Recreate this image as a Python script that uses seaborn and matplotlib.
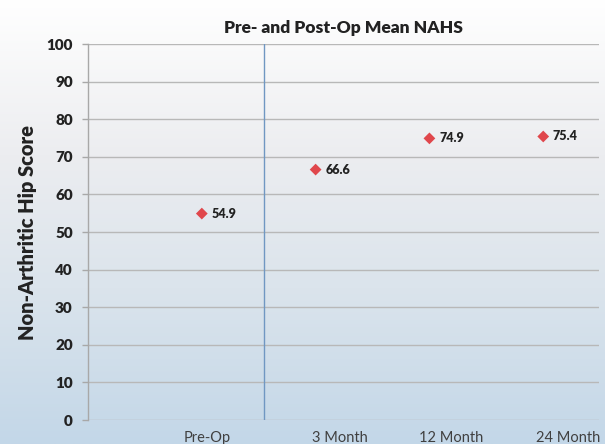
import numpy as np
import pandas as pd
import matplotlib
matplotlib.use("Agg")
import matplotlib.pyplot as plt
import seaborn as sns
from matplotlib.colors import LinearSegmentedColormap

# ---- data ----
categories = ["Pre-Op", "3 Month", "12 Month", "24 Month"]
scores = [54.9, 66.6, 74.9, 75.4]
y_ticks = list(range(0, 101, 10))
title = "Pre- and Post-Op Mean NAHS"
y_label = "Non-Arthritic Hip Score"

# ---- style ----
sns.set_theme(style="white")
plt.rcParams['font.family'] = ['Lato', 'DejaVu Sans']

label_shift = [0.05, 0.21, 0.19, 0.22]   # category label offsets (Excel text boxes)

fig = plt.figure(figsize=(6.05, 4.44), dpi=100)

# background gradient
bg = fig.add_axes([0, 0, 1, 1], zorder=-10)
cmap = LinearSegmentedColormap.from_list(
    "bg", [(0.0, "#c3d7e8"), (0.35, "#dbe4ec"), (0.65, "#ecedf0"), (1.0, "#ffffff")])
grad = np.linspace(0, 1, 256).reshape(-1, 1)
bg.imshow(grad, aspect="auto", extent=[0, 1, 0, 1], cmap=cmap, origin="lower")
bg.axis("off")

ax = fig.add_axes([88 / 605, 1 - 420 / 444, (599 - 88) / 605, (420 - 44) / 444])
ax.set_facecolor("none")

df = pd.DataFrame({"pos": np.arange(len(categories)), "score": scores, "cat": categories})
sns.scatterplot(data=df, x="pos", y="score", marker="D", color="#e0474c", s=36,
                edgecolor="none", ax=ax, zorder=3)

for x, v in zip(df["pos"], df["score"]):
    ax.annotate(f"{v}", (x, v), xytext=(7, 0), textcoords="offset points",
                va="center", ha="left", fontsize=9, fontweight="heavy", color="#222222")

ax.set_xlim(-1.0, 3.49)
ax.set_ylim(0, 100)
ax.set_yticks(y_ticks)
ax.yaxis.grid(True, color="#b8b8b8", lw=1)
ax.xaxis.grid(False)
ax.axvline(0.545, color="#7097c2", lw=1, zorder=2)

for s in ["top", "right", "bottom"]:
    ax.spines[s].set_visible(False)
ax.spines["left"].set_color("#a8a8a8")
ax.spines["left"].set_linewidth(1)

ax.tick_params(axis="y", which="both", left=True, length=4, width=1, color="#a8a8a8",
               pad=7, labelsize=11, labelcolor="#222222")
for t in ax.get_yticklabels():
    t.set_fontweight("heavy")

ax.set_xticks([p + d for p, d in zip(df["pos"], label_shift)])
ax.set_xticklabels(categories, fontsize=10.5, color="#404040")
ax.tick_params(axis="x", length=0, pad=8)

ax.set_xlabel("")
ax.set_ylabel(y_label, fontsize=14.5, fontweight="heavy", color="#222222", labelpad=7)
ax.set_title(title, fontsize=12.5, fontweight="heavy", color="#222222", pad=8)

fig.savefig("out.png", dpi=100)
